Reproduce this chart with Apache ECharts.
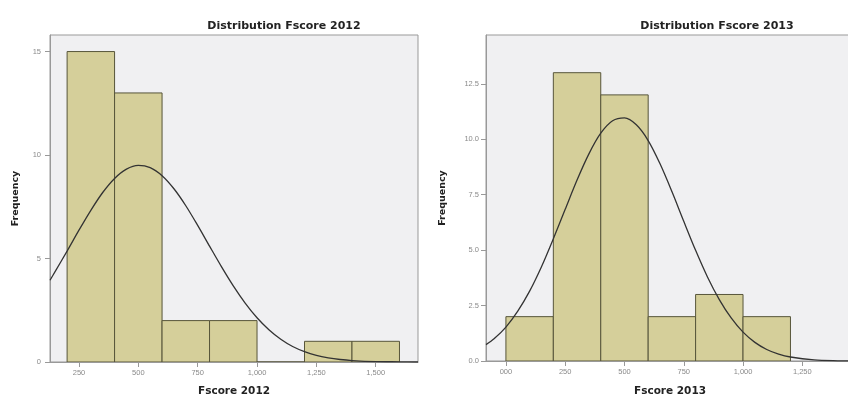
<!DOCTYPE html>
<html>
<head>
<meta charset="utf-8">
<script src="https://cdn.jsdelivr.net/npm/echarts@6/dist/echarts.min.js"></script>
<style>html,body{margin:0;padding:0;background:#fff;}#c{width:848px;height:396px;}</style>
</head>
<body>
<div id="c"></div>
<script>
// ---- data ----
const binEdges2012 = [200, 400, 600, 800, 1000, 1200, 1400, 1600];
const counts2012 = [15, 13, 2, 2, 0, 1, 1];
const binEdges2013 = [0, 200, 400, 600, 800, 1000, 1200];
const counts2013 = [2, 13, 12, 2, 3, 2];
// normal curve points
const curveX2012 = [128, 150, 200, 250, 300, 350, 400, 450, 500, 550, 600, 650, 700, 750, 800, 850, 900, 950, 1000, 1050, 1100, 1150, 1200, 1250, 1300, 1350, 1400, 1500, 1600, 1678];
const curveY2012 = [3.95, 4.38, 5.36, 6.37, 7.33, 8.19, 8.87, 9.32, 9.5, 9.39, 9.0, 8.37, 7.55, 6.6, 5.6, 4.61, 3.68, 2.85, 2.14, 1.56, 1.1, 0.75, 0.5, 0.32, 0.2, 0.12, 0.07, 0.02, 0.01, 0.0];
const curveX2013 = [-84, -50, 0, 50, 100, 150, 200, 250, 300, 350, 400, 450, 500, 550, 600, 650, 700, 750, 800, 850, 900, 950, 1000, 1050, 1100, 1150, 1200, 1300, 1400, 1468];
const curveY2013 = [0.74, 1.0, 1.53, 2.25, 3.15, 4.25, 5.51, 6.84, 8.16, 9.34, 10.27, 10.83, 10.96, 10.65, 9.94, 8.89, 7.64, 6.3, 4.99, 3.79, 2.77, 1.94, 1.3, 0.84, 0.52, 0.31, 0.18, 0.05, 0.01, 0.0];
const xTicks2012 = [250, 500, 750, 1000, 1250, 1500];
const xTicks2013 = [0, 250, 500, 750, 1000, 1250];
const titles = ['Distribution Fscore 2012', 'Distribution Fscore 2013'];
const xNames = ['Fscore 2012', 'Fscore 2013'];
const yName = 'Frequency';

function bins(edges, counts) {
  return counts.map((c, i) => [edges[i], edges[i + 1], c]);
}
function pts(xs, ys) { return xs.map((x, i) => [x, ys[i]]); }
function fmtX(v) {
  if (v === 0) return '000';
  return v.toLocaleString('en-US');
}

const BAR = '#d5cf9a';
const BAR_EDGE = '#57553a';
const FONT = 'DejaVu Sans, Arial, sans-serif';
const LFONT = 'Liberation Sans, Arial, sans-serif';

function renderBar(params, api) {
  const p0 = api.coord([api.value(0), api.value(2)]);
  const p1 = api.coord([api.value(1), 0]);
  return {
    type: 'rect',
    shape: { x: p0[0], y: p0[1], width: p1[0] - p0[0], height: p1[1] - p0[1] },
    style: { fill: BAR, stroke: BAR_EDGE, lineWidth: 1 }
  };
}

const axisLbl = { color: '#8a8a8a', fontSize: 7.5, fontFamily: LFONT };
const axisLnY = { show: true, onZero: false, lineStyle: { color: '#999', width: 1 } };
const axisLnX = { show: true, onZero: false, lineStyle: { color: '#999', width: 1 } };
const tick = { show: true, length: 5, lineStyle: { color: '#999' } };
const titleStyle = { fontSize: 11, fontWeight: 'bold', color: '#222', fontFamily: FONT };
const nameStyle = { fontSize: 10.5, fontWeight: 'bold', color: '#222', fontFamily: FONT };
const yNameStyle = { fontSize: 9.5, fontWeight: 'bold', color: '#222', fontFamily: FONT };

const chart = echarts.init(document.getElementById('c'), null, { renderer: 'canvas' });
chart.setOption({
  animation: false,
  title: [
    { text: titles[0], left: 279, top: 16, textAlign: 'center', textStyle: titleStyle },
    { text: titles[1], left: 712, top: 16, textAlign: 'center', textStyle: titleStyle }
  ],
  grid: [
    { left: 50, top: 35, width: 368, height: 327, show: true, backgroundColor: '#f0f0f2', borderColor: '#999', borderWidth: 1, outerBoundsMode: 'none', containLabel: false },
    { left: 486, top: 35, width: 368, height: 326, show: true, backgroundColor: '#f0f0f2', borderColor: '#999', borderWidth: 1, outerBoundsMode: 'none', containLabel: false }
  ],
  xAxis: [
    { type: 'value', gridIndex: 0, min: 128, max: 1678,
      name: xNames[0], nameLocation: 'middle', nameGap: 24, nameTextStyle: nameStyle,
      axisLine: axisLnX, splitLine: { show: false },
      axisTick: Object.assign({ customValues: xTicks2012 }, tick),
      axisLabel: Object.assign({ customValues: xTicks2012, formatter: fmtX, margin: 7 }, axisLbl) },
    { type: 'value', gridIndex: 1, min: -84, max: 1468,
      name: xNames[1], nameLocation: 'middle', nameGap: 25, nameTextStyle: nameStyle,
      axisLine: axisLnX, splitLine: { show: false },
      axisTick: Object.assign({ customValues: xTicks2013 }, tick),
      axisLabel: Object.assign({ customValues: xTicks2013, formatter: fmtX, margin: 7 }, axisLbl) }
  ],
  yAxis: [
    { type: 'value', gridIndex: 0, min: 0, max: 15.8, interval: 5,
      name: yName, nameLocation: 'middle', nameGap: 29, nameTextStyle: yNameStyle,
      axisLine: axisLnY, axisTick: tick, splitLine: { show: false },
      axisLabel: Object.assign({ margin: 9, showMaxLabel: false, formatter: v => String(v) }, axisLbl) },
    { type: 'value', gridIndex: 1, min: 0, max: 14.7, interval: 2.5,
      name: yName, nameLocation: 'middle', nameGap: 38, nameTextStyle: yNameStyle,
      axisLine: axisLnY, axisTick: tick, splitLine: { show: false },
      axisLabel: Object.assign({ margin: 7, showMaxLabel: false, formatter: v => v.toFixed(1) }, axisLbl) }
  ],
  series: [
    { type: 'custom', xAxisIndex: 0, yAxisIndex: 0, renderItem: renderBar,
      encode: { x: [0, 1], y: 2 }, data: bins(binEdges2012, counts2012), clip: true },
    { type: 'line', xAxisIndex: 0, yAxisIndex: 0, data: pts(curveX2012, curveY2012),
      smooth: 0.3, showSymbol: false, lineStyle: { color: '#333', width: 1.3 }, z: 5 },
    { type: 'custom', xAxisIndex: 1, yAxisIndex: 1, renderItem: renderBar,
      encode: { x: [0, 1], y: 2 }, data: bins(binEdges2013, counts2013), clip: true },
    { type: 'line', xAxisIndex: 1, yAxisIndex: 1, data: pts(curveX2013, curveY2013),
      smooth: 0.3, showSymbol: false, lineStyle: { color: '#333', width: 1.3 }, z: 5 }
  ]
});
</script>
</body>
</html>
